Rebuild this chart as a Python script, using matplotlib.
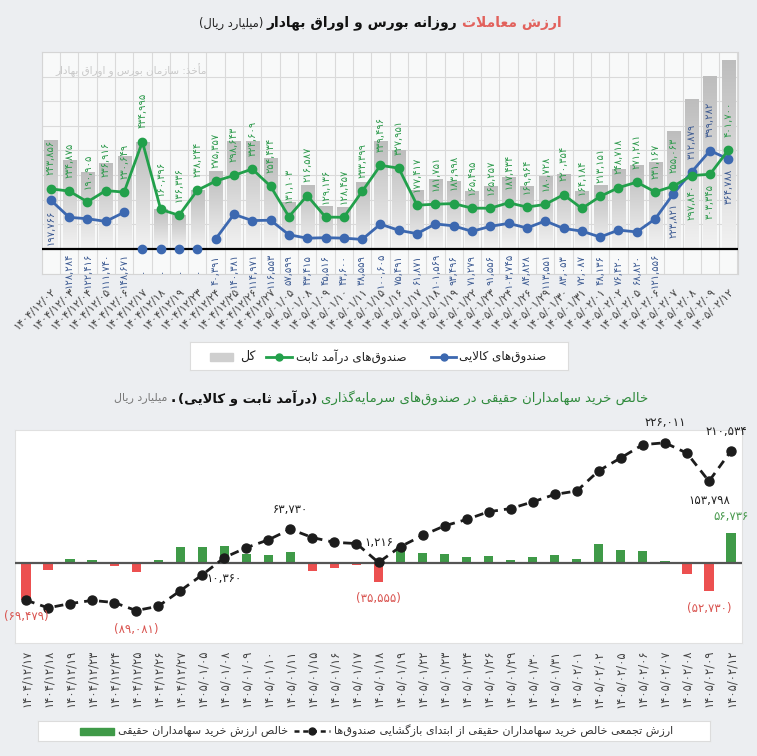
import re
import numpy as np
import matplotlib
matplotlib.use('Agg')
import matplotlib.pyplot as plt
from matplotlib.colors import LinearSegmentedColormap
from matplotlib.patches import Rectangle

plt.rcParams['font.family'] = ['DejaVu Sans']

W, H = 757, 756
BG = '#eceef1'
GREEN = '#22a04b'
BLUE = '#3c68b0'
BAR_GREEN = '#3f9a48'
BAR_RED = '#ec5050'

# ---- data: top chart (daily trading value, billion rials)
dates = ['1404/12/02', '1404/12/03', '1404/12/04', '1404/12/05', '1404/12/06',
         '1404/12/17', '1404/12/18', '1404/12/19', '1404/12/23', '1404/12/24',
         '1404/12/25', '1404/12/26', '1404/12/27', '1405/01/05', '1405/01/08',
         '1405/01/09', '1405/01/10', '1405/01/11', '1405/01/15', '1405/01/16',
         '1405/01/17', '1405/01/18', '1405/01/19', '1405/01/22', '1405/01/23',
         '1405/01/24', '1405/01/26', '1405/01/29', '1405/01/30', '1405/01/31',
         '1405/02/01', '1405/02/02', '1405/02/05', '1405/02/06', '1405/02/07',
         '1405/02/08', '1405/02/09', '1405/02/12']
fixed_income = [243856, 234875, 190905, 236916, 230649, 434995, 160396, 136336,
                238244, 275357, 298643, 324609, 254434, 131103, 216587, 129136,
                128457, 233399, 339496, 327951, 177417, 181751, 183998, 165495,
                165257, 187434, 169964, 180728, 220354, 164184, 213151, 248718,
                271281, 231167, 255063, 297840, 303345, 401700]
commodity = [197766, 128284, 122416, 111740, 148671, 0, 0, 0, 0, 40391, 140381,
             114971, 116553, 57599, 43415, 45516, 43600, 38559, 100605, 75491,
             61871, 101569, 93496, 71279, 91556, 103745, 84828, 113551, 83053,
             72087, 48136, 76420, 68820, 121556, 223821, 312879, 399282, 364788]

# ---- data: bottom chart (net retail buying in funds)
dates_net = dates[5:]
net_daily = [-69479, -13700, 8000, 6000, -5000, -17081, 6000, 30000, 30000,
             32360, 17500, 15800, 20000, -15600, -9400, -3000, -35555, 31000,
             18700, 17500, 10600, 13700, 5600, 10600, 14400, 6900, 36800, 25000,
             23700, 3500, -20000, -52730, 56736]
net_cum = [-69479, -84000, -76000, -70000, -74000, -89081, -81000, -52000,
           -22000, 10360, 29000, 43730, 63730, 48000, 39000, 36771, 1216, 31000,
           52000, 70000, 82000, 96500, 102500, 115000, 129000, 135500, 173500,
           197700, 222500, 226011, 206528, 153798, 210534]

FA_DIGITS = str.maketrans('0123456789', '۰۱۲۳۴۵۶۷۸۹')


def fa_num(v):
    s = f'{abs(v):,}'.translate(FA_DIGITS)
    return f'({s})' if v < 0 else s


FORMS = {
    'ا': ('\uFE8D', '\uFE8E', None, None), 'آ': ('\uFE81', '\uFE82', None, None),
    'أ': ('\uFE83', '\uFE84', None, None),
    'ب': ('\uFE8F', '\uFE90', '\uFE91', '\uFE92'), 'پ': ('\uFB56', '\uFB57', '\uFB58', '\uFB59'),
    'ت': ('\uFE95', '\uFE96', '\uFE97', '\uFE98'), 'ث': ('\uFE99', '\uFE9A', '\uFE9B', '\uFE9C'),
    'ج': ('\uFE9D', '\uFE9E', '\uFE9F', '\uFEA0'), 'چ': ('\uFB7A', '\uFB7B', '\uFB7C', '\uFB7D'),
    'ح': ('\uFEA1', '\uFEA2', '\uFEA3', '\uFEA4'), 'خ': ('\uFEA5', '\uFEA6', '\uFEA7', '\uFEA8'),
    'د': ('\uFEA9', '\uFEAA', None, None), 'ذ': ('\uFEAB', '\uFEAC', None, None),
    'ر': ('\uFEAD', '\uFEAE', None, None), 'ز': ('\uFEAF', '\uFEB0', None, None),
    'ژ': ('\uFB8A', '\uFB8B', None, None),
    'س': ('\uFEB1', '\uFEB2', '\uFEB3', '\uFEB4'), 'ش': ('\uFEB5', '\uFEB6', '\uFEB7', '\uFEB8'),
    'ص': ('\uFEB9', '\uFEBA', '\uFEBB', '\uFEBC'), 'ض': ('\uFEBD', '\uFEBE', '\uFEBF', '\uFEC0'),
    'ط': ('\uFEC1', '\uFEC2', '\uFEC3', '\uFEC4'), 'ظ': ('\uFEC5', '\uFEC6', '\uFEC7', '\uFEC8'),
    'ع': ('\uFEC9', '\uFECA', '\uFECB', '\uFECC'), 'غ': ('\uFECD', '\uFECE', '\uFECF', '\uFED0'),
    'ف': ('\uFED1', '\uFED2', '\uFED3', '\uFED4'), 'ق': ('\uFED5', '\uFED6', '\uFED7', '\uFED8'),
    'ک': ('\uFB8E', '\uFB8F', '\uFB90', '\uFB91'), 'گ': ('\uFB92', '\uFB93', '\uFB94', '\uFB95'),
    'ل': ('\uFEDD', '\uFEDE', '\uFEDF', '\uFEE0'), 'م': ('\uFEE1', '\uFEE2', '\uFEE3', '\uFEE4'),
    'ن': ('\uFEE5', '\uFEE6', '\uFEE7', '\uFEE8'), 'ه': ('\uFEE9', '\uFEEA', '\uFEEB', '\uFEEC'),
    'و': ('\uFEED', '\uFEEE', None, None), 'ی': ('\uFBFC', '\uFBFD', '\uFBFE', '\uFBFF'),
}
LAM_ALEF = {'ا': ('\uFEFB', '\uFEFC'), 'آ': ('\uFEF5', '\uFEF6'), 'أ': ('\uFEF7', '\uFEF8')}


def fa(s):
    # minimal arabic-script shaping + right-to-left reordering
    res = []
    prev_joins = False
    i = 0
    while i < len(s):
        c = s[i]
        nxt = s[i + 1] if i + 1 < len(s) else ''
        if c not in FORMS:
            if c != '\u200c':
                res.append(c)
            prev_joins = False
            i += 1
            continue
        if c == 'ل' and nxt in LAM_ALEF:
            res.append(LAM_ALEF[nxt][1] if prev_joins else LAM_ALEF[nxt][0])
            prev_joins = False
            i += 2
            continue
        iso, fin, ini, med = FORMS[c]
        joins_next = ini is not None and nxt in FORMS
        if prev_joins and joins_next:
            res.append(med)
        elif prev_joins:
            res.append(fin)
        elif joins_next:
            res.append(ini)
        else:
            res.append(iso)
        prev_joins = joins_next
        i += 1
    shaped = ''.join(res)
    return shaped[::-1].translate(str.maketrans('()', ')('))


fig = plt.figure(figsize=(W / 100, H / 100), dpi=100, facecolor=BG)


def px_axes(x0, y0, x1, y1):
    return fig.add_axes([x0 / W, 1 - y1 / H, (x1 - x0) / W, (y1 - y0) / H])


def rich_row(xc, y, pieces, gap=4):
    # pieces in visual left-to-right order
    texts = [fig.text(0, 1 - y / H, s, va='center', ha='left', **kw) for s, kw in pieces]
    fig.canvas.draw()
    r = fig.canvas.get_renderer()
    widths = [t.get_window_extent(r).width for t in texts]
    x = xc - (sum(widths) + gap * (len(texts) - 1)) / 2
    for t, w in zip(texts, widths):
        t.set_x(x / W)
        x += w + gap


# ---------------- top chart ----------------
ax1 = px_axes(41.7, 52, 737.5, 273.5)
ax1.set_facecolor('#f8f9f9')
n = len(dates)
x = np.arange(n)
fixed = np.array(fixed_income)
comm = np.array(commodity)
total = fixed + comm

for b in np.arange(-0.5, n, 1):
    ax1.axvline(b, color='#dadada', lw=0.8, zorder=0)
for yy in range(-100000, 800001, 100000):
    ax1.axhline(yy, color='#dadada', lw=0.8, zorder=0)

cmap = LinearSegmentedColormap.from_list('barfade', ['#f2f2f2', '#bdbdbd'])
grad = np.linspace(0, 1, 128).reshape(-1, 1)
bars = ax1.bar(x, total, width=0.72, color='#d4d4d4', zorder=1)
for rect, t in zip(bars, total):
    x0 = rect.get_x()
    im = ax1.imshow(grad, extent=(x0, x0 + rect.get_width(), 0, t), origin='lower',
                    cmap=cmap, aspect='auto', zorder=1.5, interpolation='bilinear')
    im.set_clip_path(rect)

ax1.axhline(0, color='black', lw=1.6, zorder=3)
comm_line = np.where(comm == 0, np.nan, comm).astype(float)
ax1.plot(x, comm_line, color=BLUE, lw=2, marker='o', ms=6, zorder=4)
ax1.plot(x[comm == 0], comm[comm == 0], ls='none', color=BLUE, marker='o', ms=6, zorder=4)
ax1.plot(x, fixed, color=GREEN, lw=2, marker='o', ms=6, zorder=5)

PX = 0.72  # pixel -> points
LBL = dict(textcoords='offset points', rotation=90, ha='center', va='center',
           fontsize=7.2, zorder=6, annotation_clip=False)
for i in range(n):
    g, c = fixed[i], comm[i]
    if g >= c:
        ax1.annotate(fa_num(g), (i, g), xytext=(0, 31 * PX), color='#2d9a4c', **LBL)
        if c > 175000:
            ax1.annotate(fa_num(c), (i, c), xytext=(0, -27 * PX), color='#3c5a92', **LBL)
        else:
            ax1.annotate(fa_num(c), (i, 0), xytext=(0, -21 * PX), color='#3c5a92', **LBL)
    else:
        ax1.annotate(fa_num(c), (i, c), xytext=(0, 31 * PX), color='#3c5a92', **LBL)
        ax1.annotate(fa_num(g), (i, g), xytext=(0, -27 * PX), color='#2d9a4c', **LBL)

ax1.set_xlim(-0.5, n - 0.5)
ax1.set_ylim(-100000, 800000)
ax1.set_yticks([])
ax1.set_xticks(x)
ax1.set_xticklabels([d.translate(FA_DIGITS) for d in dates], rotation=45, ha='right',
                    rotation_mode='anchor', fontsize=7.8, color='#444')
ax1.tick_params(axis='x', length=0, pad=9)
for s in ax1.spines.values():
    s.set_color('#d5d5d5')
ax1.text(0.019, 0.919, fa('مأخذ: سازمان بورس و اوراق بهادار'), transform=ax1.transAxes,
         fontsize=7.5, color='#c8c8c8', va='center', ha='left', zorder=7)

# top legend
lg1 = px_axes(190, 342, 568, 370)
lg1.set_facecolor('white')
lg1.set_xlim(190, 568)
lg1.set_ylim(370, 342)
lg1.set_xticks([])
lg1.set_yticks([])
for s in lg1.spines.values():
    s.set_color('#dcdcdc')
lg1.add_patch(Rectangle((210, 353), 23, 8, color='#cfcfcf'))
lg1.text(240, 356.5, fa('کل'), fontsize=9, va='center', ha='left', color='#222')
lg1.plot([266, 292], [356.5, 356.5], color=GREEN, lw=2)
lg1.plot([279], [356.5], color=GREEN, marker='o', ms=5)
lg1.text(296, 356.5, fa('صندوق‌های درآمد ثابت'), fontsize=8.6, va='center', ha='left', color='#222')
lg1.plot([431, 456], [356.5, 356.5], color=BLUE, lw=2)
lg1.plot([443.5], [356.5], color=BLUE, marker='o', ms=5)
lg1.text(459, 356.5, fa('صندوق‌های کالایی'), fontsize=8.6, va='center', ha='left', color='#222')

# ---------------- bottom chart ----------------
ax2 = px_axes(15, 430, 742, 643)
ax2.set_facecolor('white')
m = len(dates_net)
x2 = np.arange(m)
nd = np.array(net_daily)
ax2.bar(x2, nd, width=0.42, color=[BAR_GREEN if v >= 0 else BAR_RED for v in nd], zorder=2)
ax2.axhline(0, color='#555555', lw=1.6, zorder=3)
ax2.plot(x2, net_cum, color='#1c1c1c', lw=2, ls=(0, (3.2, 2.2)), marker='o', ms=6.5, zorder=4)
ax2.set_xlim(-0.5, m - 0.5)
ax2.set_ylim(-150000, 250000)
ax2.set_yticks([])
ax2.set_xticks(x2)
ax2.set_xticklabels([d.translate(FA_DIGITS) for d in dates_net], rotation=90,
                    fontsize=8.3, color='#444')
ax2.tick_params(axis='x', length=0, pad=5)
for s in ax2.spines.values():
    s.set_color('#e0e0e0')

RED_TXT = '#d9534f'
# (index, dy px, colour, dx px)
cum_labels = [(0, -16, RED_TXT, 0), (5, -19, RED_TXT, 0), (9, -21, '#222', 0),
              (12, 20, '#222', 0), (16, 20, '#222', 0), (29, 20, '#222', 0),
              (31, -19, '#222', 0), (32, 20, '#222', -5)]
for i, dy, col, dx in cum_labels:
    ax2.annotate(fa_num(net_cum[i]), (i, net_cum[i]), xytext=(dx * PX, dy * PX),
                 textcoords='offset points', ha='center', va='center', fontsize=8.5,
                 color=col, zorder=6)
bar_labels = [(16, -16, RED_TXT), (31, -17, RED_TXT), (32, 16, '#4a9a4f')]
for i, dy, col in bar_labels:
    ax2.annotate(fa_num(net_daily[i]), (i, net_daily[i]), xytext=(0, dy * PX),
                 textcoords='offset points', ha='center', va='center', fontsize=8.5,
                 color=col, zorder=6)

# bottom legend
lg2 = px_axes(38, 721, 710, 741)
lg2.set_facecolor('white')
lg2.set_xlim(38, 710)
lg2.set_ylim(741, 721)
lg2.set_xticks([])
lg2.set_yticks([])
for s in lg2.spines.values():
    s.set_color('#dcdcdc')
lg2.add_patch(Rectangle((80, 728), 34, 7, color=BAR_GREEN))
lg2.text(118, 731, fa('خالص ارزش خرید سهامداران حقیقی'), fontsize=8, va='center', ha='left', color='#333')
lg2.plot([294, 330], [731, 731], color='#1c1c1c', lw=1.8, ls=(0, (2, 1.5)))
lg2.plot([312], [731], color='#1c1c1c', marker='o', ms=5)
lg2.text(334, 731, fa('ارزش تجمعی خالص خرید سهامداران حقیقی از ابتدای بازگشایی صندوق‌ها'),
         fontsize=8, va='center', ha='left', color='#333')

# titles
rich_row(380, 23, [
    (fa('(میلیارد ریال)'), dict(fontsize=8.3, color='#222')),
    (fa('روزانه بورس و اوراق بهادار'), dict(fontsize=10, color='#111', fontweight='bold')),
    (fa('ارزش معاملات'), dict(fontsize=10, color='#e2615c', fontweight='bold')),
])
rich_row(381, 398, [
    (fa('میلیارد ریال'), dict(fontsize=8, color='#7a7a7a')),
    ('.', dict(fontsize=10, color='#111', fontweight='bold')),
    (fa('(درآمد ثابت و کالایی)'), dict(fontsize=9.5, color='#111', fontweight='bold')),
    (fa('خالص خرید سهامداران حقیقی در صندوق‌های سرمایه‌گذاری'), dict(fontsize=9.5, color='#2f8a3c')),
], gap=3)

fig.savefig('out.png', dpi=100, facecolor=BG)
